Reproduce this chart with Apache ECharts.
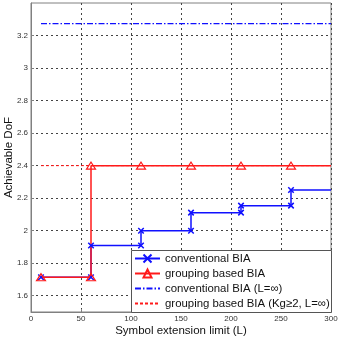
<!DOCTYPE html>
<html><head><meta charset="utf-8">
<script src="https://cdn.jsdelivr.net/npm/echarts@6/dist/echarts.min.js"></script>
<style>html,body{margin:0;padding:0;background:#fff}#c{width:338px;height:338px}</style>
</head><body><div id="c"></div>
<script>
// Data
const convL   = [10, 60, 60, 110, 110, 160, 160, 210, 210, 260, 260, 300];
const convDoF = [1.714, 1.714, 1.909, 1.909, 2.0, 2.0, 2.111, 2.111, 2.154, 2.154, 2.25, 2.25];
const convMarked = [true, true, true, true, true, true, true, true, true, true, true, false];
const grpL   = [10, 60, 60, 110, 160, 210, 260, 300];
const grpDoF = [1.714, 1.714, 2.4, 2.4, 2.4, 2.4, 2.4, 2.4];
const grpMarked = [true, true, true, true, true, true, true, false];
const convInfL = [10, 300];
const convInfDoF = [3.273, 3.273];
const grpInfL = [10, 300];
const grpInfDoF = [2.4, 2.4];
const yTicks = [1.6, 1.8, 2.0, 2.2, 2.4, 2.6, 2.8, 3.0, 3.2];
const xTicks = [0, 50, 100, 150, 200, 250, 300];
const seriesNames = ['conventional BIA', 'grouping based BIA', 'conventional BIA (L=\u221e)', 'grouping based BIA (Kg\u22652, L=\u221e)'];

const BLUE = '#1010ff', RED = '#ff1a1a';
const xSym = 'path://M0,0L10,10M10,0L0,10';
function pts(xs, ys, marks) {
  return xs.map((x, i) => {
    const d = { value: [x, ys[i]] };
    if (marks && !marks[i]) d.symbol = 'none';
    return d;
  });
}
const gridStyle = { show: true, lineStyle: { color: '#444', type: [2, 3], width: 1 } };
const chart = echarts.init(document.getElementById('c'), null, { renderer: 'canvas' });
chart.setOption({
  animation: false,
  backgroundColor: '#fff',
  grid: { left: 31, right: 7, top: 3, bottom: 26, outerBoundsMode: 'none', containLabel: false,
          show: true, borderColor: '#808080', borderWidth: 1, backgroundColor: 'transparent' },
  xAxis: {
    type: 'value', min: 0, max: 300, interval: 50,
    name: 'Symbol extension limit (L)', nameLocation: 'middle', nameGap: 13, nameMoveOverlap: false,
    nameTextStyle: { fontFamily: 'Liberation Sans', fontSize: 11.5, color: '#111' },
    axisLine: { show: true, lineStyle: { color: '#808080' } },
    axisTick: { show: true, inside: true, length: 3, lineStyle: { color: '#808080' } },
    axisLabel: { fontFamily: 'Liberation Sans', fontSize: 8, color: '#333', margin: 3, customValues: xTicks },
    splitLine: gridStyle
  },
  yAxis: {
    type: 'value', min: 1.5, max: 3.4,
    name: 'Achievable DoF', nameLocation: 'middle', nameGap: 16, nameMoveOverlap: false,
    nameTextStyle: { fontFamily: 'Liberation Sans', fontSize: 11.5, color: '#111' },
    axisLine: { show: true, lineStyle: { color: '#808080' } },
    axisTick: { show: true, inside: true, length: 3, lineStyle: { color: '#808080' }, customValues: yTicks },
    axisLabel: { fontFamily: 'Liberation Sans', fontSize: 8, color: '#333', margin: 3, customValues: yTicks,
      formatter: v => String(Math.round(v * 10) / 10) },
    splitLine: gridStyle
  },
  legend: {
    orient: 'vertical', left: 134, top: 252, padding: [0, 0, 0, 0],
    itemWidth: 25, itemHeight: 10, itemGap: 2,
    textStyle: { fontFamily: 'Liberation Sans', fontSize: 11.4, color: '#111', lineHeight: 13 },
    data: seriesNames
  },
  graphic: [{
    type: 'rect', left: 131, top: 250, z: 2,
    shape: { width: 200, height: 62 },
    style: { fill: '#fff', stroke: '#555', lineWidth: 1 }
  }],
  series: [
    {
      name: seriesNames[3], type: 'line', data: pts(grpInfL, grpInfDoF),
      symbol: 'circle', showSymbol: false, symbolSize: 0, z: 3,
      lineStyle: { color: RED, width: 1, type: [3, 2] },
      itemStyle: { color: 'rgba(0,0,0,0)', borderWidth: 0 }
    },
    {
      name: seriesNames[2], type: 'line', data: pts(convInfL, convInfDoF),
      symbol: 'circle', showSymbol: false, symbolSize: 0, z: 3,
      lineStyle: { color: BLUE, width: 1.2, type: [6, 2, 1.5, 2] },
      itemStyle: { color: 'rgba(0,0,0,0)', borderWidth: 0 }
    },
    {
      name: seriesNames[0], type: 'line', data: pts(convL, convDoF, convMarked),
      symbol: xSym, symbolSize: 5.5, z: 4,
      lineStyle: { color: BLUE, width: 1.5 },
      itemStyle: { color: 'none', borderColor: BLUE, borderWidth: 1.5 }
    },
    {
      name: seriesNames[1], type: 'line', data: pts(grpL, grpDoF, grpMarked),
      symbol: 'triangle', symbolSize: [9, 7], z: 4,
      lineStyle: { color: RED, width: 1.5 },
      itemStyle: { color: 'rgba(255,255,255,0)', borderColor: RED, borderWidth: 1.2 }
    }
  ]
});
</script></body></html>
